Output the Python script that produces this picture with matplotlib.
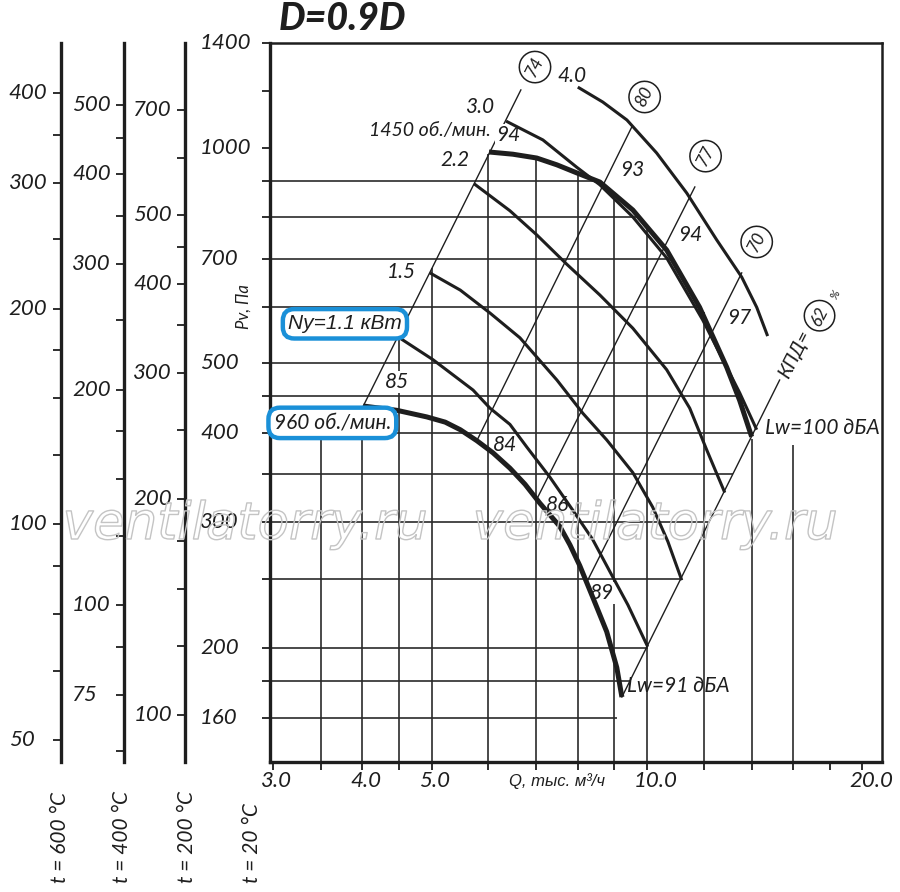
"""Fan chart D=0.9D: Pv vs Q for 960 and 1450 rpm, with extra temperature scales."""

import matplotlib
matplotlib.use("Agg")
import matplotlib.pyplot as plt
import matplotlib.patheffects as pe
from matplotlib.transforms import blended_transform_factory, offset_copy

plt.rcParams["font.family"] = ["Lato", "DejaVu Sans"]
plt.rcParams["font.style"] = "italic"
CYR = ["Liberation Sans", "DejaVu Sans"]  # keeps the upright form of italic "т"

# pressure curves (Q in thousand m3/h, Pv in Pa)
q_960 = [4.01, 4.47, 4.92, 5.22, 5.48, 5.78, 6.09, 6.43, 6.75, 7.08, 7.55, 7.80, 8.05, 8.39, 8.78, 9.07, 9.22]
p_960 = [436, 430, 421, 414, 404, 390, 375, 357, 339, 319, 296, 279, 261, 236, 211, 188, 171]

q_1450 = [6.01, 6.49, 7.01, 7.48, 7.97, 8.59, 9.55, 10.65, 11.84, 12.92, 13.47, 14.0]
p_1450 = [987, 980, 968, 947, 923, 896, 819, 720, 599, 494, 444, 395]

# motor power curves
q_n11 = [4.48, 5.02, 5.71, 6.03, 6.43, 6.79, 7.31, 7.87, 8.39, 8.87, 9.40, 10.02]
p_n11 = [545, 506, 459, 433, 411, 382, 347, 312, 284, 256, 230, 201]
q_n15 = [4.97, 5.48, 6.03, 6.64, 7.48, 8.13, 8.78, 9.55, 10.18, 10.69, 11.18]
p_n15 = [669, 633, 588, 543, 474, 426, 391, 352, 315, 282, 249]
q_n22 = [5.73, 6.43, 7.01, 7.72, 8.59, 9.55, 10.65, 11.47, 12.11, 12.84]
p_n22 = [891, 817, 756, 688, 623, 560, 490, 433, 379, 330]
q_n30 = [6.35, 7.15, 7.97, 8.59, 9.55, 10.65, 11.96, 13.47, 14.23]
p_n30 = [1090, 1026, 940, 888, 801, 702, 575, 455, 404]
q_n40 = [8.00, 8.67, 9.37, 10.31, 11.36, 12.51, 13.56, 14.23, 14.74]
p_n40 = [1216, 1159, 1094, 984, 865, 744, 660, 599, 546]

power_text = ["4.0", "3.0", "2.2", "1.5"]
power_q = [7.85, 5.84, 5.39, 4.54]
power_p = [1260, 1141, 962, 671]

# efficiency lines (end points) and circled labels
eff_text = ["74", "80", "77", "70"]
eff_q = [(4.01, 6.66), (5.78, 9.52), (7.03, 11.66), (8.26, 13.56), (9.22, 15.32)]
eff_p = [(436, 1205), (390, 1070), (325, 882), (249, 669), (171, 474)]
eff_lab_q = [6.97, 9.92, 12.07, 14.23]
eff_lab_p = [1297, 1178, 974, 739]

# sound power level marks
lw_text = ["94", "93", "94", "97", "85", "84", "86", "89"]
lw_q = [6.39, 9.52, 11.47, 13.47, 4.47, 6.33, 7.50, 8.64]
lw_p = [1043, 931, 756, 579, 471, 385, 317, 239]

# grid segments
grid_q = [3.5, 4.0, 4.5, 5.0, 6.0, 7.0, 8.0, 9.0, 10.0, 12.0, 14.0, 16.0]
grid_q_top = [400, 436, 550, 680, 980, 968, 923, 865, 777, 590, 392, 385]
grid_p = [900, 800, 700, 600, 500, 450, 400, 350, 300, 250, 200, 180, 160]
grid_p_end = [8.39, 9.76, 10.82, 11.84, 12.8, 13.47, 14.09, 13.17, 12.15, 11.18, 10.02, 9.49, 9.07]

q_ticks = [3.0, 3.5, 4.0, 4.5, 5.0, 6.0, 7.0, 8.0, 9.0, 10.0, 12.0, 14.0, 16.0, 18.0, 20.0]
q_labels = ["3.0", "4.0", "5.0", "10.0", "20.0"]
p_ticks = [1400, 1200, 1000, 900, 800, 700, 600, 500, 450, 400, 350, 300, 250, 200, 180, 160]
p_labels = [1400, 1000, 700, 500, 400, 300, 200, 160]

temps = [600, 400, 200]
temp_ticks = [
    [400, 350, 300, 250, 200, 175, 150, 125, 100, 87.5, 75, 62.5, 50],
    [500, 450, 400, 350, 300, 250, 200, 175, 150, 125, 100, 87.5, 75, 62.5],
    [700, 600, 500, 450, 400, 350, 300, 250, 200, 175, 150, 125, 100],
]
temp_labels = [[400, 300, 200, 100, 50], [500, 400, 300, 200, 100, 75], [700, 500, 400, 300, 200, 100]]

W, H = 900, 892
INK = "#1e1e1e"
BLUE = "#1a90d8"

fig = plt.figure(figsize=(W / 100, H / 100), dpi=100)
ax_left, ax_right, ax_top, ax_bot = 270, 882, 43.3, 761.7
ax = fig.add_axes([ax_left / W, 1 - ax_bot / H, (ax_right - ax_left) / W, (ax_bot - ax_top) / H])
ax.set_xscale("log")
ax.set_yscale("log")
ymin, ymax = 138.9, 1400
ax.set_xlim(2.97, 21.3)
ax.set_ylim(ymin, ymax)
ax.set_xticks(q_ticks)
ax.set_yticks(p_ticks)
ax.minorticks_off()
ax.set_xticklabels([])
ax.set_yticklabels([])
ax.tick_params(direction="out", length=5.5, width=1.3, color=INK)
for side, lw in [("left", 2.4), ("bottom", 2.4), ("top", 1.8), ("right", 1.8)]:
    ax.spines[side].set_linewidth(lw)
    ax.spines[side].set_color(INK)

# grid
ax.vlines(grid_q, ymin, grid_q_top, color="#2a2a2a", lw=1.2, zorder=1)
ax.hlines(grid_p, 2.97, grid_p_end, color="#2a2a2a", lw=1.2, zorder=1)

# efficiency lines
for q, p in zip(eff_q, eff_p):
    ax.plot(q, p, color=INK, lw=1.0, zorder=2)

# curves
for q, p in [(q_n11, p_n11), (q_n15, p_n15), (q_n22, p_n22), (q_n30, p_n30), (q_n40, p_n40)]:
    ax.plot(q, p, color=INK, lw=2.2, zorder=3, solid_capstyle="butt")
ax.plot(q_960, p_960, color=INK, lw=3.6, zorder=4, solid_capstyle="butt")
ax.plot(q_1450, p_1450, color=INK, lw=3.6, zorder=4, solid_capstyle="butt")

# labels on the chart
for t, q, p in zip(power_text, power_q, power_p):
    ax.text(q, p, t, fontsize=15, ha="center", va="center", color=INK, zorder=5)
ax.text(6.05, 1059, "1450 об./мин.", fontsize=14, ha="right", va="center", color=INK, zorder=5)

for t, q, p in zip(lw_text, lw_q, lw_p):
    ax.text(q, p, t, fontsize=15, ha="center", va="center", color=INK, zorder=2.5,
            bbox=dict(boxstyle="square,pad=0.05", fc="white", ec="none"))

circ = dict(boxstyle="circle,pad=0.32", fc="white", ec=INK, lw=1.1)
for t, q, p in zip(eff_text, eff_lab_q, eff_lab_p):
    ax.text(q, p, t, fontsize=12.5, rotation=63, ha="center", va="center", color=INK, zorder=5, bbox=circ)
ax.text(16.1, 515, "КПД=", fontsize=14, rotation=63, ha="center", va="center", color=INK, zorder=5)
ax.text(17.42, 583, "62", fontsize=12.5, rotation=63, ha="center", va="center", color=INK, zorder=5, bbox=circ)
ax.text(18.35, 625, "%", fontsize=8.5, rotation=63, ha="center", va="center", color=INK, zorder=5)

ax.text(14.6, 406, "Lw=100 дБА", fontsize=15, ha="left", va="center", color=INK, zorder=5)
ax.text(9.37, 177, "Lw=91 дБА", fontsize=15, ha="left", va="center", color=INK, zorder=5)

box = dict(boxstyle="round,pad=0.25,rounding_size=0.55", fc="white", ec=BLUE, lw=3.2)
ax.text(3.78, 568, "Ny=1.1 кВт", fontsize=15, family=CYR, ha="center", va="center", color=INK,
        zorder=6, bbox=box)
ax.text(3.63, 413, "960 об./мин.", fontsize=15, ha="center", va="center", color=INK, zorder=6, bbox=box)

# main axis tick labels
ytrans = blended_transform_factory(fig.transFigure, ax.transData)
for v in p_labels:
    ax.text(200 / W, v, str(v), transform=ytrans, fontsize=16, ha="left", va="center", color=INK)
xtrans = blended_transform_factory(ax.transData, fig.transFigure)
for lab in q_labels:
    tr = offset_copy(xtrans, fig=fig, x=3 + 6 * (len(lab) - 3), units="dots")
    ax.text(float(lab), 1 - 781 / H, lab, transform=tr, fontsize=16, ha="center", va="center", color=INK)
fig.text(557 / W, 1 - 781 / H, "Q, тыс. м³/ч", fontsize=12, family=CYR, ha="center", va="center", color=INK)
fig.text(244 / W, 1 - 307 / H, "Pv, Па", fontsize=12, rotation=90, ha="center", va="center", color=INK)

# extra pressure scales for hot gas
scale_px = [60.7, 124, 185.3]
for t, xpx, ticks, labels in zip(temps, scale_px, temp_ticks, temp_labels):
    r = (273 + 20) / (273 + t)
    sa = fig.add_axes([xpx / W, 1 - ax_bot / H, 0.0001, (ax_bot - ax_top) / H])
    sa.set_yscale("log")
    sa.set_ylim(ymin * r, ymax * r)
    sa.set_xticks([])
    sa.set_yticks(ticks)
    sa.minorticks_off()
    sa.set_yticklabels([])
    sa.tick_params(direction="out", length=5.5, width=1.3, color=INK)
    for side in ["top", "right", "bottom"]:
        sa.spines[side].set_visible(False)
    sa.spines["left"].set_linewidth(2.4)
    sa.spines["left"].set_color(INK)
    sa.patch.set_visible(False)
    tr = blended_transform_factory(fig.transFigure, sa.transData)
    for v in labels:
        sa.text((xpx - 52) / W, v, f"{v:g}", transform=tr, fontsize=16, ha="left", va="center", color=INK)

for txt, xpx in zip(["t = 600 °C", "t = 400 °C", "t = 200 °C", "t = 20 °C"], [60, 122, 187, 252]):
    fig.text(xpx / W, 1 - 883 / H, txt, fontsize=15, rotation=90, ha="center", va="bottom", color=INK)

fig.text(342 / W, 1 - 18 / H, "D=0.9D", fontsize=27, weight="black", ha="center", va="center", color=INK)

# watermark
for xc in [245, 655]:
    fig.text(xc / W, 1 - 525 / H, "ventilatorry.ru", fontsize=37, ha="center", va="center",
             color="none", family=["DejaVu Sans"], weight="light",
             path_effects=[pe.Stroke(linewidth=1.0, foreground="#c4c4c4")])

fig.savefig("out.png", dpi=100, facecolor="white")
